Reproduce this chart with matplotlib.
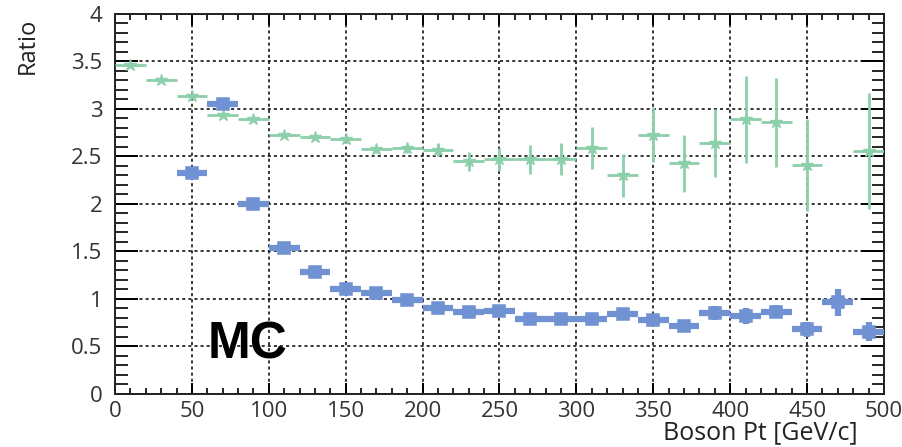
import numpy as np
import matplotlib.pyplot as plt
from matplotlib.ticker import MultipleLocator

# bins de 20 GeV en pT del bosón
pt_centro = np.arange(10, 500, 20)

# ratio (estrellas verdes); el bin de 470 no tiene punto
ratio_verde = [3.46, 3.30, 3.14, 2.94, 2.89, 2.73, 2.70, 2.68, 2.575, 2.59,
               2.57, 2.45, 2.47, 2.47, 2.47, 2.59, 2.30, 2.73, 2.43, 2.64,
               2.89, 2.86, 2.41, np.nan, 2.56]
err_verde = [0.01, 0.01, 0.015, 0.02, 0.02, 0.03, 0.03, 0.035, 0.04, 0.05,
             0.07, 0.10, 0.12, 0.15, 0.17, 0.22, 0.23, 0.29, 0.30, 0.36,
             0.46, 0.47, 0.48, 0.0, 0.61]

# ratio (cuadrados azules); sin puntos en los dos primeros bins
ratio_azul = [np.nan, np.nan, 2.33, 3.05, 2.00, 1.54, 1.28, 1.10, 1.06, 0.99,
              0.91, 0.866, 0.877, 0.786, 0.786, 0.786, 0.842, 0.78, 0.716, 0.856,
              0.82, 0.866, 0.68, 0.965, 0.656]
err_azul = [0.0, 0.0, 0.02, 0.03, 0.02, 0.02, 0.02, 0.025, 0.025, 0.03,
            0.03, 0.035, 0.035, 0.035, 0.035, 0.04, 0.04, 0.045, 0.045, 0.075,
            0.08, 0.07, 0.08, 0.14, 0.10]

ancho_bin = 10

verde = "#8ccfab"
azul = "#7092d2"

plt.rcParams['font.family'] = ['Open Sans', 'DejaVu Sans']

fig = plt.figure(figsize=(9.02, 4.47), dpi=100)
ax = fig.add_axes([0.1275, 0.1186, 0.8525, 0.8501])

ax.errorbar(pt_centro, ratio_verde, xerr=ancho_bin, yerr=err_verde,
            fmt='*', color=verde, markersize=9, elinewidth=2, capsize=0,
            zorder=3)
ax.errorbar(pt_centro, ratio_azul, xerr=ancho_bin, yerr=err_azul,
            fmt='s', color=azul, mfc='none', mec=azul, mew=4, markersize=6,
            elinewidth=4.5, capsize=0, zorder=4)

ax.set_xlim(0, 500)
ax.set_ylim(0, 4)
ax.xaxis.set_major_locator(MultipleLocator(50))
ax.xaxis.set_minor_locator(MultipleLocator(10))
ax.yaxis.set_minor_locator(MultipleLocator(0.1))
ax.set_yticks([0, 0.5, 1, 1.5, 2, 2.5, 3, 3.5, 4])
ax.set_yticklabels(['0', '0.5', '1', '1.5', '2', '2.5', '3', '3.5', '4'])

ax.grid(True, which='major', color='black', linestyle=(0, (2, 2)), linewidth=1.1)

ax.tick_params(axis='x', which='major', direction='in', top=True, length=8,
               width=1.4, labelsize=16, labelcolor='#333333', pad=5)
ax.tick_params(axis='x', which='minor', direction='in', top=True, length=4.5,
               width=1.2)
ax.tick_params(axis='y', which='major', direction='in', right=True, length=16.5,
               width=1.4, labelsize=16, labelcolor='#333333', pad=9)
ax.tick_params(axis='y', which='minor', direction='in', right=True, length=9,
               width=1.2)
for s in ax.spines.values():
    s.set_linewidth(1.4)
    s.set_color('#222222')

ax.set_xlabel('Boson Pt [GeV/c]', fontsize=18, color='#222222', loc='right')
ax.xaxis.set_label_coords(0.966, -0.068)
ax.set_ylabel('Ratio', fontsize=17, color='#222222', loc='top')
ax.yaxis.set_label_coords(-0.098, 0.99)

ax.text(60, 0.37, 'MC', fontsize=37, fontweight='bold',
        family='Liberation Sans', color='black', zorder=5)

fig.savefig('out.png', dpi=100)
